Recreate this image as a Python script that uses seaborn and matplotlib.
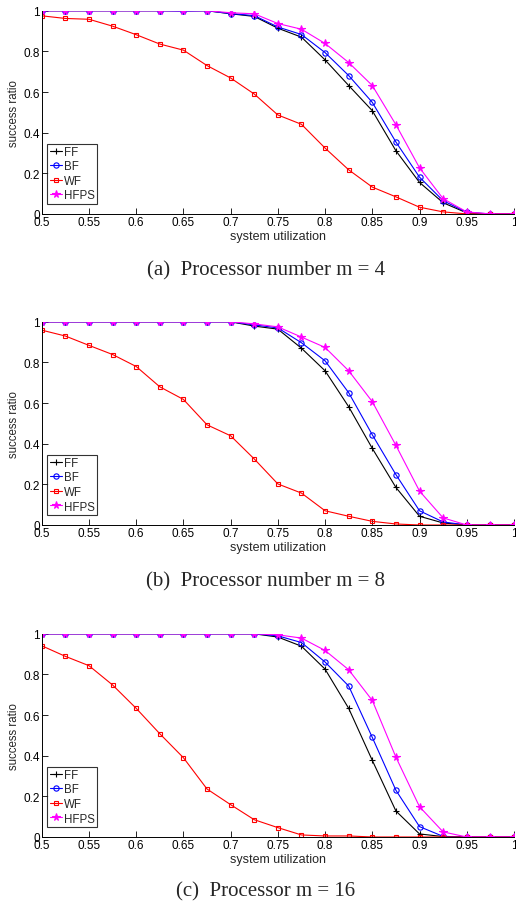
import matplotlib
matplotlib.use("Agg")
import matplotlib.pyplot as plt
import seaborn as sns
import pandas as pd

utilization = [0.5, 0.525, 0.55, 0.575, 0.6, 0.625, 0.65, 0.675, 0.7, 0.725,
               0.75, 0.775, 0.8, 0.825, 0.85, 0.875, 0.9, 0.925, 0.95, 0.975, 1.0]

# m = 4
ff_4 = [1, 1, 1, 1, 1, 1, 1, 1, 0.985, 0.972, 0.914, 0.87, 0.758, 0.632, 0.508, 0.311, 0.155, 0.055, 0.005, 0, 0]
bf_4 = [1, 1, 1, 1, 1, 1, 0.998, 1, 0.986, 0.976, 0.92, 0.883, 0.794, 0.681, 0.549, 0.354, 0.181, 0.065, 0.008, 0, 0]
wf_4 = [0.975, 0.962, 0.958, 0.924, 0.882, 0.836, 0.806, 0.73, 0.669, 0.59, 0.487, 0.441, 0.324, 0.217, 0.132, 0.084, 0.033, 0.01, 0, 0, 0]
hfps_4 = [1, 1, 1, 1, 1, 1, 1, 1, 0.99, 0.985, 0.937, 0.909, 0.839, 0.745, 0.632, 0.439, 0.227, 0.075, 0.01, 0, 0]

# m = 8
ff_8 = [1, 1, 1, 1, 1, 1, 1, 1, 1, 0.979, 0.964, 0.87, 0.759, 0.582, 0.377, 0.185, 0.043, 0.01, 0, 0, 0]
bf_8 = [1, 1, 1, 1, 1, 1, 1, 1, 1, 0.985, 0.97, 0.897, 0.808, 0.651, 0.444, 0.248, 0.07, 0.015, 0, 0, 0]
wf_8 = [0.959, 0.93, 0.884, 0.839, 0.78, 0.68, 0.618, 0.493, 0.439, 0.325, 0.202, 0.157, 0.07, 0.043, 0.018, 0.005, 0, 0, 0, 0, 0]
hfps_8 = [1, 1, 1, 1, 1, 1, 1, 1, 1, 0.99, 0.975, 0.925, 0.874, 0.759, 0.607, 0.392, 0.167, 0.035, 0, 0, 0]

# m = 16
ff_16 = [1, 1, 1, 1, 1, 1, 1, 1, 1, 1, 0.984, 0.939, 0.826, 0.633, 0.377, 0.128, 0.015, 0.002, 0, 0, 0]
bf_16 = [1, 1, 1, 1, 1, 1, 1, 1, 1, 1, 0.99, 0.957, 0.861, 0.743, 0.49, 0.23, 0.051, 0.003, 0, 0, 0]
wf_16 = [0.941, 0.889, 0.843, 0.748, 0.633, 0.508, 0.39, 0.236, 0.159, 0.085, 0.046, 0.01, 0.005, 0.005, 0, 0, 0, 0, 0, 0, 0]
hfps_16 = [1, 1, 1, 1, 1, 1, 1, 1, 1, 1, 0.995, 0.979, 0.918, 0.823, 0.672, 0.393, 0.149, 0.025, 0, 0, 0]

panels = [
    ("(a)  Processor number m = 4", [ff_4, bf_4, wf_4, hfps_4]),
    ("(b)  Processor number m = 8", [ff_8, bf_8, wf_8, hfps_8]),
    ("(c)  Processor m = 16", [ff_16, bf_16, wf_16, hfps_16]),
]
names = ["FF", "BF", "WF", "HFPS"]
colors = ["black", "#0000ff", "#ff0000", "#ff00ff"]
markers = ["+", "o", "s", "*"]
msizes = [4.5, 3.8, 3.2, 5.5]
fills = ["full", "none", "none", "full"]

sns.set_style("ticks")
plt.rcParams["font.family"] = ["Liberation Sans", "DejaVu Sans"]

fig = plt.figure(figsize=(5.16, 9.03), dpi=100)
# axes bottoms / caption centres in figure fractions
bottoms = [0.762, 0.4175, 0.072]
captions_y = [0.7, 0.356, 0.0125]

for (caption, series), b, cy in zip(panels, bottoms, captions_y):
    ax = fig.add_axes([0.081, b, 0.915, 0.225])
    for name, vals, c, m, ms, fs in zip(names, series, colors, markers, msizes, fills):
        df = pd.DataFrame({"x": utilization, "y": vals})
        sns.lineplot(data=df, x="x", y="y", ax=ax, color=c, marker=m, markersize=ms,
                     fillstyle=fs, markeredgecolor=c, markeredgewidth=0.8,
                     linewidth=0.8, label=name)
    ax.set_xlim(0.5, 1.0)
    ax.set_ylim(0, 1)
    ax.set_xticks([0.5, 0.55, 0.6, 0.65, 0.7, 0.75, 0.8, 0.85, 0.9, 0.95, 1.0])
    ax.set_xticklabels(["0.5", "0.55", "0.6", "0.65", "0.7", "0.75", "0.8", "0.85", "0.9", "0.95", "1"])
    ax.set_yticks([0, 0.2, 0.4, 0.6, 0.8, 1.0])
    ax.set_yticklabels(["0", "0.2", "0.4", "0.6", "0.8", "1"])
    ax.tick_params(direction="in", length=4, width=0.6, labelsize=8.5, pad=1.5, colors="black")
    for s in ["top", "right"]:
        ax.spines[s].set_visible(False)
    for s in ["left", "bottom"]:
        ax.spines[s].set_linewidth(0.7)
        ax.spines[s].set_color("black")
    ax.set_xlabel("system utilization", fontsize=9, labelpad=1.5)
    ax.set_ylabel("success ratio", fontsize=8.3, labelpad=2)
    leg = ax.legend(loc="lower left", bbox_to_anchor=(0.012, 0.05), borderaxespad=0,
                    fontsize=8.3, frameon=True, fancybox=False,
                    borderpad=0.2, labelspacing=0.22, handlelength=1.1,
                    handletextpad=0.15)
    leg.get_frame().set_edgecolor("black")
    leg.get_frame().set_linewidth(0.8)
    fig.text(0.5155, cy, caption, ha="center", va="center", fontsize=15,
             family=["Liberation Serif", "DejaVu Serif"])

fig.savefig("out.png", dpi=100)
